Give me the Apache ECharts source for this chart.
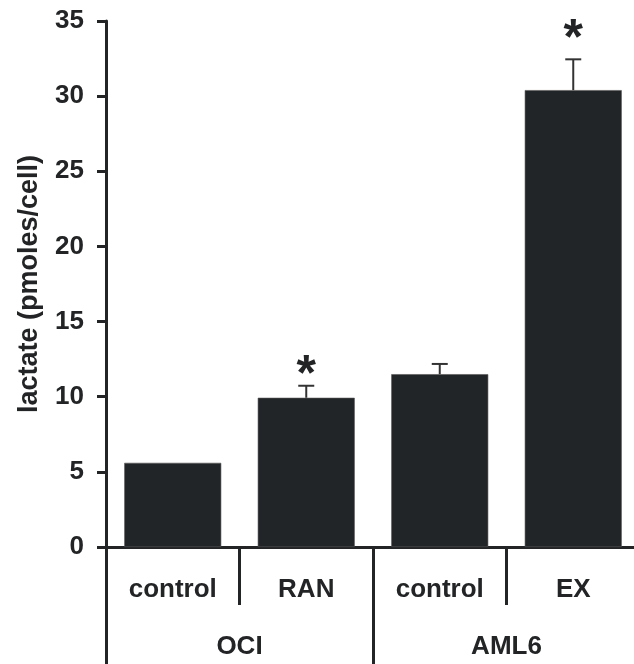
<!DOCTYPE html>
<html>
<head>
<meta charset="utf-8">
<script src="https://cdn.jsdelivr.net/npm/echarts@6/dist/echarts.min.js"></script>
<style>
html,body{margin:0;padding:0;background:#fff;overflow:hidden;}
#c{width:641px;height:664px;}
</style>
</head>
<body>
<div id="c"></div>
<script>
var categories = ['control', 'RAN', 'control', 'EX'];
var groups = ['OCI', 'AML6'];
var values = [5.6, 9.93, 11.5, 30.4];
var errorTops = [null, 10.73, 12.18, 32.45];
var starPositions = [null, 12.0, null, 34.4];
var yTicks = {min: 0, max: 35, interval: 5};

var ink = '#222426';
var font = 'Liberation Sans, Arial, Helvetica, sans-serif';

var chart = echarts.init(document.getElementById('c'), null, {renderer: 'canvas'});

var errData = [];
errorTops.forEach(function (v, i) { if (v !== null) errData.push([i, values[i], v]); });
var starData = [];
starPositions.forEach(function (v, i) { if (v !== null) starData.push([i, v]); });

chart.setOption({
  animation: false,
  backgroundColor: '#fff',
  grid: {left: 106, top: 21, bottom: 117, right: 1},
  xAxis: [{
    type: 'category',
    data: categories,
    position: 'bottom',
    axisLine: {show: true, lineStyle: {color: ink, width: 3}},
    axisTick: {show: true, length: 58, lineStyle: {color: ink, width: 3}},
    axisLabel: {color: ink, fontFamily: font, fontWeight: 'bold', fontSize: 26, margin: 30}
  }, {
    type: 'category',
    data: groups,
    position: 'bottom',
    axisLine: {show: false},
    axisTick: {show: true, length: 117, lineStyle: {color: ink, width: 3}},
    axisLabel: {color: ink, fontFamily: font, fontWeight: 'bold', fontSize: 26, margin: 87}
  }],
  yAxis: {
    type: 'value',
    min: yTicks.min, max: yTicks.max, interval: yTicks.interval,
    name: 'lactate (pmoles/cell)',
    nameLocation: 'middle',
    nameRotate: 90,
    nameGap: 63,
    nameTextStyle: {color: ink, fontFamily: font, fontWeight: 'bold', fontSize: 27},
    axisLine: {show: true, lineStyle: {color: ink, width: 3}},
    axisTick: {show: true, length: 9, lineStyle: {color: ink, width: 3}},
    axisLabel: {color: ink, fontFamily: font, fontWeight: 'bold', fontSize: 26, margin: 22},
    splitLine: {show: false}
  },
  series: [{
    type: 'bar',
    data: values,
    barWidth: 97,
    itemStyle: {color: '#222528', borderColor: '#555', borderWidth: 0.6},
    z: 2
  }, {
    type: 'custom',
    data: errData,
    z: 3,
    renderItem: function (params, api) {
      var x = api.value(0);
      var p0 = api.coord([x, api.value(1)]);
      var p1 = api.coord([x, api.value(2)]);
      var hw = 8;
      return {
        type: 'group',
        children: [{
          type: 'line',
          shape: {x1: p0[0], y1: p0[1], x2: p1[0], y2: p1[1]},
          style: {stroke: '#333', lineWidth: 2}
        }, {
          type: 'line',
          shape: {x1: p1[0] - hw, y1: p1[1], x2: p1[0] + hw, y2: p1[1]},
          style: {stroke: '#333', lineWidth: 2}
        }]
      };
    }
  }, {
    type: 'custom',
    data: starData,
    z: 4,
    renderItem: function (params, api) {
      var p = api.coord([api.value(0), api.value(1)]);
      return {
        type: 'text',
        x: p[0], y: p[1] + 10,
        style: {
          text: '*', fill: ink,
          font: 'bold 50px ' + font,
          align: 'center', verticalAlign: 'middle'
        }
      };
    }
  }]
});
</script>
</body>
</html>
